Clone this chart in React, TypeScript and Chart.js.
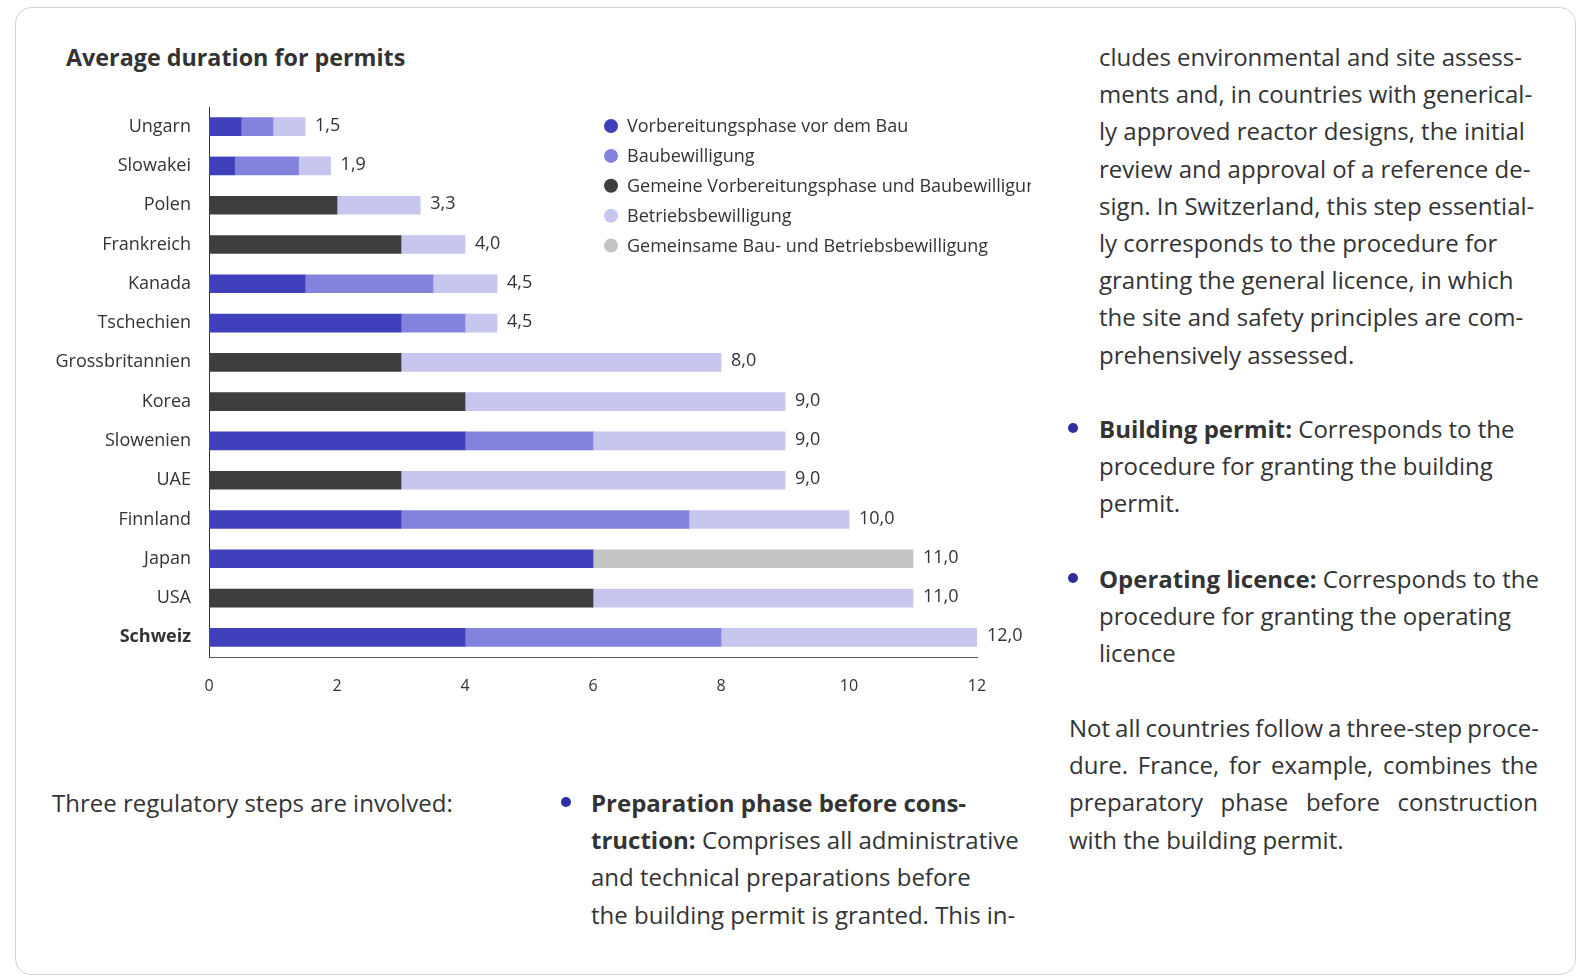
import React, { useEffect, useRef } from "react";
import { Chart, registerables } from "chart.js";

Chart.register(...registerables);

const categories = [
  "Ungarn", "Slowakei", "Polen", "Frankreich", "Kanada", "Tschechien", "Grossbritannien",
  "Korea", "Slowenien", "UAE", "Finnland", "Japan", "USA", "Schweiz",
];
const prepPhase = [0.5, 0.4, null, null, 1.5, 3, null, null, 4, null, 3, 6, null, 4];
const buildingPermit = [0.5, 1.0, null, null, 2, 1, null, null, 2, null, 4.5, null, null, 4];
const combinedPrepBuilding = [null, null, 2, 3, null, null, 3, 4, null, 3, null, null, 6, null];
const operatingLicence = [0.5, 0.5, 1.3, 1, 1, 0.5, 5, 5, 3, 6, 2.5, null, 5, 4];
const combinedBuildOperate = [null, null, null, null, null, null, null, null, null, null, null, 5, null, null];
const totals = ["1,5", "1,9", "3,3", "4,0", "4,5", "4,5", "8,0", "9,0", "9,0", "9,0", "10,0", "11,0", "11,0", "12,0"];
const seriesNames = [
  "Vorbereitungsphase vor dem Bau",
  "Baubewilligung",
  "Gemeine Vorbereitungsphase und Baubewilligung",
  "Betriebsbewilligung",
  "Gemeinsame Bau- und Betriebsbewilligung",
];
const seriesColors = ["#4040BC", "#8383DD", "#3E3E3E", "#C6C6EE", "#C4C4C4"];
const xTicks = [0, 2, 4, 6, 8, 10, 12];

const FONT = "'Open Sans', sans-serif";
const TEXT = "#333333";

const legendPlugin = {
  id: "customLegend",
  afterDraw(chart: any) {
    const ctx = chart.ctx;
    ctx.save();
    ctx.font = `18px ${FONT}`;
    ctx.textBaseline = "middle";
    chart.data.datasets.forEach((ds: any, i: number) => {
      const y = 30 + i * 29.9;
      ctx.fillStyle = ds.backgroundColor;
      ctx.beginPath();
      ctx.arc(571, y, 7, 0, Math.PI * 2);
      ctx.fill();
      ctx.fillStyle = TEXT;
      ctx.textAlign = "left";
      ctx.fillText(ds.label, 587, y + 1);
    });
    ctx.restore();
  },
};

const totalsPlugin = {
  id: "totals",
  afterDatasetsDraw(chart: any) {
    const ctx = chart.ctx;
    const xs = chart.scales.x;
    const ys = chart.scales.y;
    ctx.save();
    ctx.font = `18px ${FONT}`;
    ctx.fillStyle = TEXT;
    ctx.textBaseline = "middle";
    ctx.textAlign = "left";
    categories.forEach((_, i) => {
      let sum = 0;
      chart.data.datasets.forEach((ds: any) => {
        const v = ds.data[i];
        if (v != null) sum += v;
      });
      ctx.fillText(totals[i], xs.getPixelForValue(sum) + 10, ys.getPixelForValue(i) - 1);
    });
    ctx.restore();
  },
};

function BarChart() {
  const ref = useRef<HTMLCanvasElement>(null);
  useEffect(() => {
    if (!ref.current) return;
    const seriesData = [prepPhase, buildingPermit, combinedPrepBuilding, operatingLicence, combinedBuildOperate];
    const chart = new Chart(ref.current, {
      type: "bar",
      data: {
        labels: categories,
        datasets: seriesData.map((d, i) => ({
          label: seriesNames[i],
          data: d as any,
          backgroundColor: seriesColors[i],
          borderWidth: 0,
          barThickness: 18,
        })),
      },
      options: {
        indexAxis: "y",
        responsive: false,
        animation: false,
        layout: { padding: { top: 11, right: 54, left: 0, bottom: 0 } },
        plugins: { legend: { display: false }, tooltip: { enabled: false } },
        scales: {
          x: {
            stacked: true,
            min: 0,
            max: 12,
            afterBuildTicks: (scale: any) => {
              scale.ticks = xTicks.map((v) => ({ value: v }));
            },
            afterFit: (scale: any) => {
              scale.height = 49;
              scale.paddingLeft = 0;
              scale.paddingRight = 0;
            },
            grid: { display: false, drawTicks: false },
            border: { display: true, color: "#5a5a5a", width: 1 },
            ticks: { padding: 20, color: TEXT, font: { family: FONT, size: 16 } },
          },
          y: {
            stacked: true,
            afterFit: (scale: any) => {
              scale.width = 169;
              scale.paddingTop = 0;
              scale.paddingBottom = 0;
            },
            grid: { display: false, drawTicks: false },
            border: { display: true, color: "#333333", width: 1 },
            ticks: {
              padding: 18,
              color: TEXT,
              font: (c: any) => ({ family: FONT, size: 18, weight: c.index === 13 ? "bold" : "normal" }),
            },
          },
        },
      },
      plugins: [legendPlugin, totalsPlugin],
    });
    return () => chart.destroy();
  }, []);
  return (
    <canvas
      ref={ref}
      width={991}
      height={610}
      style={{ position: "absolute", left: 40, top: 96, width: 991, height: 610 }}
    />
  );
}

const Bullet = ({ cx, cy }: { cx: number; cy: number }) => (
  <span
    style={{
      position: "absolute",
      left: cx - 5,
      top: cy - 5,
      width: 10,
      height: 10,
      borderRadius: 5,
      background: "#2E2E9E",
    }}
  />
);

function Lines({ left, top, width, lines, justify, firstWordSpacing }: any) {
  return (
    <div style={{ position: "absolute", left, top, width, fontSize: 24, lineHeight: "37.2px", color: TEXT }}>
      {lines.map((l: any, i: number) => (
        <div
          key={i}
          style={{
            whiteSpace: "nowrap",
            textAlign: justify && i < lines.length - 1 ? "justify" : "left",
            textAlignLast: justify && i < lines.length - 1 ? "justify" : "left",
            wordSpacing: i === 0 && firstWordSpacing ? firstWordSpacing : undefined,
          } as any}
        >
          {l}
        </div>
      ))}
    </div>
  );
}

export default function App() {
  return (
    <div
      style={{
        position: "fixed",
        left: 0,
        top: 0,
        width: 1578,
        height: 976,
        background: "#fff",
        fontFamily: FONT,
        overflow: "hidden",
      }}
    >
      <div
        style={{
          position: "absolute",
          left: 15,
          top: 7,
          width: 1559,
          height: 966,
          border: "1px solid #d2d2d2",
          borderRadius: 16,
        }}
      />
      <div
        style={{
          position: "absolute",
          left: 66,
          top: 42,
          fontSize: 23.3,
          lineHeight: "31px",
          fontWeight: 700,
          color: TEXT,
        }}
      >
        Average duration for permits
      </div>
      <BarChart />

      <Lines left={52} top={784} width={470} lines={["Three regulatory steps are involved:"]} />

      <Bullet cx={566} cy={802} />
      <Lines
        left={591}
        top={784}
        width={440}
        lines={[
          <b key="a">Preparation phase before cons-</b>,
          <span key="b"><b>truction:</b> Comprises all administrative</span>,
          "and technical preparations before",
          "the building permit is granted. This in-",
        ]}
      />

      <Lines
        left={1099}
        top={38}
        width={450}
        lines={[
          "cludes environmental and site assess-",
          "ments and, in countries with generical-",
          "ly approved reactor designs, the initial",
          "review and approval of a reference de-",
          "sign. In Switzerland, this step essential-",
          "ly corresponds to the procedure for",
          "granting the general licence, in which",
          "the site and safety principles are com-",
          "prehensively assessed.",
        ]}
      />

      <Bullet cx={1073} cy={428} />
      <Lines
        left={1099}
        top={410}
        width={450}
        lines={[
          <span key="a"><b>Building permit:</b> Corresponds to the</span>,
          "procedure for granting the building",
          "permit.",
        ]}
      />

      <Bullet cx={1073} cy={578} />
      <Lines
        left={1099}
        top={560}
        width={450}
        lines={[
          <span key="a"><b>Operating licence:</b> Corresponds to the</span>,
          "procedure for granting the operating",
          "licence",
        ]}
      />

      <Lines
        left={1069}
        top={709}
        width={469}
        justify
        firstWordSpacing="-1.2px"
        lines={[
          "Not all countries follow a three-step proce-",
          "dure. France, for example, combines the",
          "preparatory phase before construction",
          "with the building permit.",
        ]}
      />
    </div>
  );
}
